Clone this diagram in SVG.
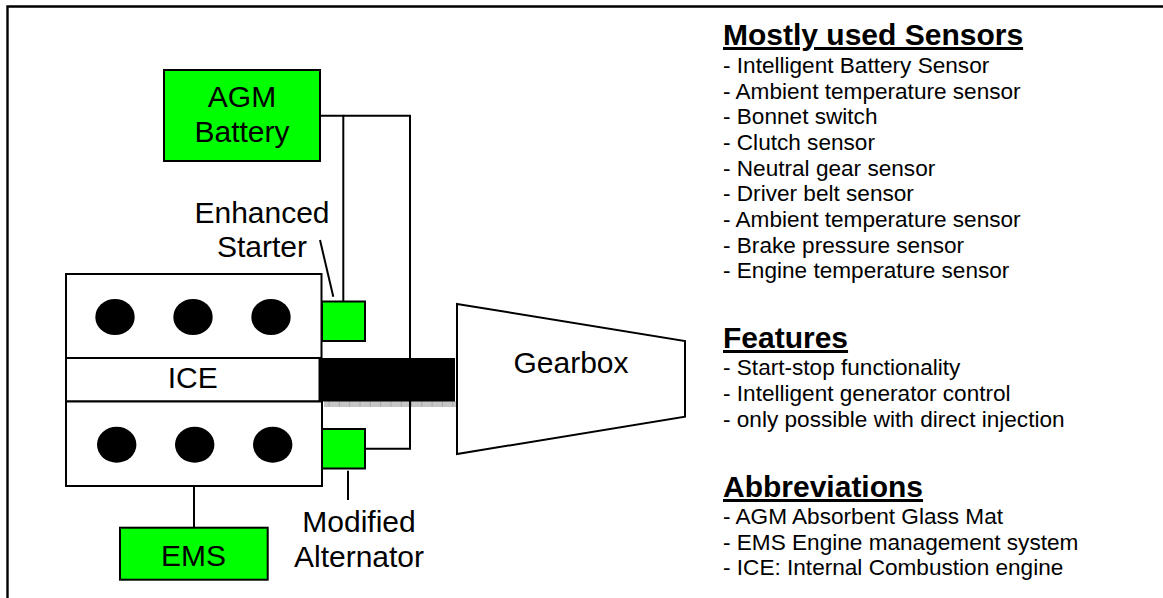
<svg xmlns="http://www.w3.org/2000/svg" width="1163" height="598" viewBox="0 0 1163 598">
<style>
text{font-family:"Liberation Sans",Arial,sans-serif;fill:#000}
.n{fill:#fff;stroke:#000;stroke-width:2}
.g{fill:#0f0;stroke:#000;stroke-width:2}
.c{fill:none;stroke:#000;stroke-width:2}
.l{font-size:30px;text-anchor:middle}
.h{font-size:30px;font-weight:bold;text-decoration:underline}
.t{font-size:22.6px}
</style>
<defs><pattern id="dots" width="10.300" height="5" patternUnits="userSpaceOnUse"><rect width="10.300" height="5" fill="#c6c6c6"/><rect x="9.300" width="1" height="5" fill="#a8a8a8"/></pattern></defs>
<rect width="1163" height="598" fill="#fff"/>
<path d="M7.500 598V6.500H1163" fill="none" stroke="#000" stroke-width="2.400"/>
<g id="shaft"><rect x="324" y="401" width="132" height="6" fill="url(#dots)"/><rect x="320" y="358" width="135" height="43.500" fill="#000"/></g>
<g id="connectors">
<path class="c" d="M320 115.700H343.300V301"/>
<path class="c" d="M343.300 115.700H410V358M410 401V448.700H366"/>
<path class="c" d="M194 486V528"/>
<path class="c" d="M320 240L333.300 296.700"/>
<path class="c" d="M348 470.700V500"/>
</g>
<g id="battery"><rect class="g" x="164" y="70" width="156" height="91"/><text class="l" x="242" y="107">AGM</text><text class="l" x="242" y="142">Battery</text></g>
<g id="enhanced-starter"><rect class="g" x="322" y="301.500" width="43" height="39.500"/><text class="l" x="262" y="223">Enhanced</text><text class="l" x="262" y="257">Starter</text></g>
<g id="engine-top"><rect class="n" x="66" y="274" width="255.500" height="84"/><ellipse cx="115" cy="317" rx="19.700" ry="18"/><ellipse cx="193" cy="317" rx="19.700" ry="18"/><ellipse cx="271" cy="317" rx="19.700" ry="18"/></g>
<g id="ice"><rect class="n" x="66" y="358" width="253.500" height="43.500"/><text class="l" x="192.700" y="388">ICE</text></g>
<g id="engine-bottom"><rect class="n" x="66" y="401.500" width="256" height="84.500"/><ellipse cx="116.700" cy="444.700" rx="19.700" ry="18"/><ellipse cx="194.700" cy="444.700" rx="19.700" ry="18"/><ellipse cx="272.700" cy="444.700" rx="19.700" ry="18"/></g>
<g id="alternator"><rect class="g" x="322" y="429" width="43" height="39.500"/><text class="l" x="359" y="532">Modified</text><text class="l" x="359" y="567">Alternator</text></g>
<g id="ems"><rect class="g" x="120" y="527.700" width="147.700" height="52"/><text class="l" x="193.500" y="566">EMS</text></g>
<g id="gearbox"><path class="n" d="M457 304L685 341V416.700L457 454Z"/><text class="l" x="571" y="373">Gearbox</text></g>
<g id="sensors"><text class="h" x="723" y="45">Mostly used Sensors</text>
<text class="t" x="723" y="73">- Intelligent Battery Sensor</text>
<text class="t" x="723" y="98.600">- Ambient temperature sensor</text>
<text class="t" x="723" y="124">- Bonnet switch</text>
<text class="t" x="723" y="150">- Clutch sensor</text>
<text class="t" x="723" y="175.500">- Neutral gear sensor</text>
<text class="t" x="723" y="201">- Driver belt sensor</text>
<text class="t" x="723" y="227">- Ambient temperature sensor</text>
<text class="t" x="723" y="252.500">- Brake pressure sensor</text>
<text class="t" x="723" y="278">- Engine temperature sensor</text></g>
<g id="features"><text class="h" x="723" y="348">Features</text>
<text class="t" x="723" y="375">- Start-stop functionality</text>
<text class="t" x="723" y="401">- Intelligent generator control</text>
<text class="t" x="723" y="426.500">- only possible with direct injection</text></g>
<g id="abbreviations"><text class="h" x="723" y="497">Abbreviations</text>
<text class="t" x="723" y="524">- AGM Absorbent Glass Mat</text>
<text class="t" x="723" y="549.500">- EMS Engine management system</text>
<text class="t" x="723" y="575">- ICE: Internal Combustion engine</text></g>
</svg>
